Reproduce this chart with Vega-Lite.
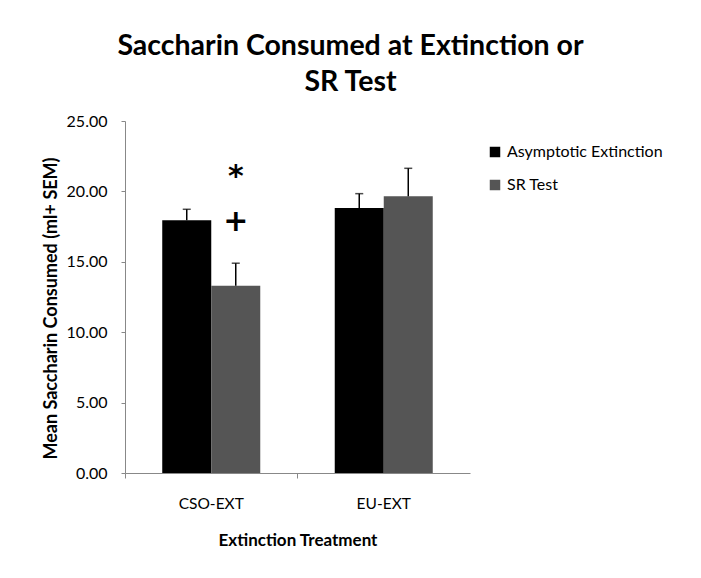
{
  "$schema": "https://vega.github.io/schema/vega-lite/v6.json",
  "width": 345,
  "height": 352,
  "autosize": {"type": "none"},
  "padding": {"left": 125, "top": 121, "right": 231, "bottom": 105},
  "background": "white",
  "config": {
    "font": "Lato",
    "view": {"stroke": null},
    "axis": {"domainColor": "#888888", "tickColor": "#888888", "grid": false, "labelColor": "#000000", "titleColor": "#000000"}
  },
  "title": {
    "text": ["Saccharin Consumed at Extinction or", "SR Test"],
    "fontSize": 28.5,
    "fontWeight": "bold",
    "font": "Lato",
    "lineHeight": 36,
    "anchor": "middle",
    "dx": 53,
    "offset": 17,
    "color": "#000000"
  },
  "datasets": {
    "bars": [
      {"treatment": "CSO-EXT", "condition": "Asymptotic Extinction", "mean": 17.95, "upper": 18.73},
      {"treatment": "CSO-EXT", "condition": "SR Test", "mean": 13.3, "upper": 14.9},
      {"treatment": "EU-EXT", "condition": "Asymptotic Extinction", "mean": 18.82, "upper": 19.84},
      {"treatment": "EU-EXT", "condition": "SR Test", "mean": 19.65, "upper": 21.64}
    ],
    "marks": [
      {"treatment": "CSO-EXT", "condition": "SR Test", "y": 21.0, "label": "*"},
      {"treatment": "CSO-EXT", "condition": "SR Test", "y": 17.85, "label": "+"}
    ]
  },
  "encoding": {
    "x": {
      "field": "treatment", "type": "nominal", "sort": ["CSO-EXT", "EU-EXT"],
      "scale": {"paddingInner": 0, "paddingOuter": 0},
      "axis": {"title": "Extinction Treatment", "labelAngle": 0, "labelFontSize": 15.5, "labelPadding": 18, "tickSize": 5, "titleFontSize": 17, "titleFontWeight": "bold", "titlePadding": 21, "bandPosition": 0}
    },
    "xOffset": {"field": "condition", "type": "nominal", "sort": ["Asymptotic Extinction", "SR Test"], "scale": {"paddingInner": 0, "paddingOuter": 0.76}}
  },
  "layer": [
    {
      "data": {"name": "bars"},
      "mark": {"type": "bar"},
      "encoding": {
        "y": {
          "field": "mean", "type": "quantitative",
          "scale": {"domain": [0, 25], "nice": false},
          "axis": {"title": "Mean Saccharin Consumed (ml+ SEM)", "values": [0, 5, 10, 15, 20, 25], "format": ".2f", "labelFontSize": 16, "tickSize": 4, "labelPadding": 14, "titleFontSize": 18, "titleFontWeight": "bold", "titlePadding": 6, "titleY": 187}
        },
        "color": {
          "field": "condition", "type": "nominal",
          "scale": {"domain": ["Asymptotic Extinction", "SR Test"], "range": ["#000000", "#555555"]},
          "legend": {"title": null, "orient": "none", "legendX": 362, "legendY": 23, "symbolType": "square", "symbolSize": 110, "labelFontSize": 16, "rowPadding": 17, "symbolStrokeWidth": 0, "labelColor": "#000000"}
        }
      }
    },
    {
      "data": {"name": "bars"},
      "mark": {"type": "rule", "color": "#000000", "strokeWidth": 1.5},
      "encoding": {
        "y": {"field": "mean", "type": "quantitative", "scale": {"domain": [0, 25], "nice": false}},
        "y2": {"field": "upper"}
      }
    },
    {
      "data": {"name": "bars"},
      "mark": {"type": "tick", "orient": "horizontal", "size": 8, "thickness": 1.5, "color": "#000000"},
      "encoding": {
        "y": {"field": "upper", "type": "quantitative", "scale": {"domain": [0, 25], "nice": false}}
      }
    },
    {
      "data": {"name": "marks"},
      "mark": {"type": "text", "fontSize": 30, "fontWeight": "bold", "color": "#000000", "baseline": "middle", "font": "DejaVu Sans"},
      "encoding": {
        "y": {"field": "y", "type": "quantitative", "scale": {"domain": [0, 25], "nice": false}},
        "text": {"field": "label"}
      }
    }
  ]
}
